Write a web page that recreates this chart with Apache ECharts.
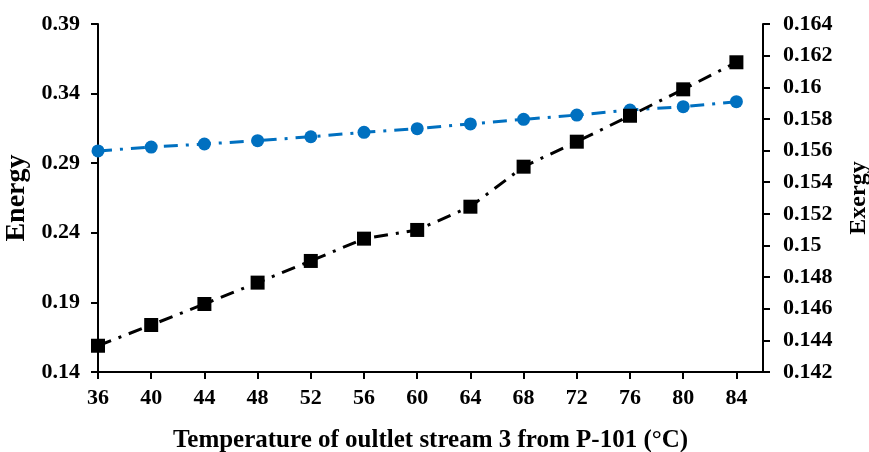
<!DOCTYPE html>
<html><head><meta charset="utf-8">
<script src="https://cdn.jsdelivr.net/npm/echarts@6/dist/echarts.min.js"></script>
<style>html,body{margin:0;padding:0;background:#fff}#c{width:869px;height:452px}</style>
</head><body><div id="c"></div>
<script>
var temperatures = [36, 40, 44, 48, 52, 56, 60, 64, 68, 72, 76, 80, 84];
var energy = [0.2988, 0.3016, 0.3038, 0.3062, 0.3090, 0.3122, 0.3148, 0.3182, 0.3215, 0.3246, 0.3282, 0.3306, 0.3342];
var exergy = [0.14366, 0.14497, 0.14630, 0.14765, 0.14902, 0.15043, 0.15098, 0.15245, 0.15498, 0.15656, 0.15820, 0.15987, 0.16158];
var xName = 'Temperature of oultlet stream 3 from P-101 (\u00B0C)';
var leftName = 'Energy';
var rightName = 'Exergy';

var font = 'Liberation Serif';
var chart = echarts.init(document.getElementById('c'), null, {renderer: 'canvas'});
function pairs(xs, ys){ return xs.map(function(x,i){ return [x, ys[i]]; }); }
var axisLineStyle = {show: true, lineStyle: {color: '#000', width: 2}};
var tickStyle = {show: true, inside: false, length: 7, lineStyle: {color: '#000', width: 2}};
var labelBase = {color: '#000', fontFamily: font, fontWeight: 'bold', fontSize: 22};
chart.setOption({
  animation: false,
  backgroundColor: '#fff',
  grid: {left: 98, right: 106, top: 24, bottom: 80, containLabel: false, outerBoundsMode: 'none'},
  xAxis: {
    type: 'value', min: 36, max: 86, interval: 4,
    name: xName, nameLocation: 'middle', nameGap: 56,
    nameTextStyle: {color: '#000', fontFamily: font, fontWeight: 'bold', fontSize: 25},
    axisLine: axisLineStyle, axisTick: tickStyle,
    axisLabel: Object.assign({margin: 15, showMaxLabel: false, formatter: function(v){ return v > 84 ? '' : String(v); }}, labelBase),
    splitLine: {show: false}
  },
  yAxis: [{
    type: 'value', min: 0.14, max: 0.39, interval: 0.05, position: 'left',
    name: leftName, nameLocation: 'middle', nameGap: 62, nameRotate: 90,
    nameTextStyle: {color: '#000', fontFamily: font, fontWeight: 'bold', fontSize: 28},
    axisLine: axisLineStyle, axisTick: tickStyle,
    axisLabel: Object.assign({margin: 18, formatter: function(v){ return v.toFixed(2); }}, labelBase),
    splitLine: {show: false}
  }, {
    type: 'value', min: 0.142, max: 0.164, interval: 0.002, position: 'right',
    name: rightName, nameLocation: 'middle', nameGap: 84, nameRotate: 90,
    nameTextStyle: {color: '#000', fontFamily: font, fontWeight: 'bold', fontSize: 24},
    axisLine: axisLineStyle, axisTick: tickStyle,
    axisLabel: Object.assign({margin: 20, formatter: function(v){ return String(parseFloat(v.toFixed(3))); }}, labelBase),
    splitLine: {show: false}
  }],
  series: [{
    name: leftName, type: 'line', yAxisIndex: 0, data: pairs(temperatures, energy),
    symbol: 'circle', symbolSize: 13,
    itemStyle: {color: '#0070C0'},
    lineStyle: {color: '#0070C0', width: 3, type: [14, 8, 3, 8]}
  }, {
    name: rightName, type: 'line', yAxisIndex: 1, data: pairs(temperatures, exergy),
    symbol: 'rect', symbolSize: 14,
    itemStyle: {color: '#000'},
    lineStyle: {color: '#000', width: 3, type: [14, 8, 3, 8]}
  }]
});
</script></body></html>
